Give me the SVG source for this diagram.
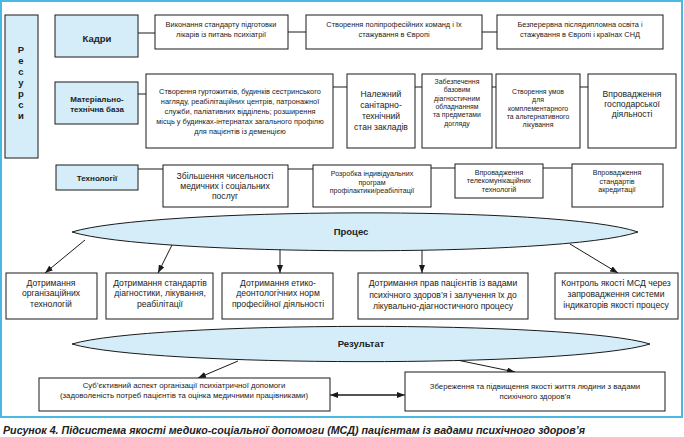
<svg xmlns="http://www.w3.org/2000/svg" width="684" height="437" viewBox="0 0 684 437">
<style>
.b{fill:#fff;stroke:#1a1a1a;stroke-width:1}
.lb{fill:#d5edf9;stroke:#1a1a1a;stroke-width:1}
.t{font-family:"Liberation Sans",Arial,sans-serif;fill:#222;text-anchor:middle}
.s{font-size:7.4px}
.x{font-size:6.9px}
.m{font-size:8.6px}
.h{font-weight:bold;font-size:8.6px}
.r{font-weight:bold;font-size:9.5px}
.c{fill:none;stroke:#1a1a1a;stroke-width:1}
</style>
<defs>
<marker id="ah" viewBox="0 0 8 6" refX="8" refY="3" markerWidth="8" markerHeight="6" markerUnits="userSpaceOnUse" orient="auto">
<path d="M0,0 L8,3 L0,6 Z" fill="#1a1a1a"/>
</marker>
</defs>
<rect x="1" y="1" width="681" height="416" fill="#fff" stroke="#47b9e2" stroke-width="2"/>

<g id="connectors">
<line class="c" x1="138" y1="33" x2="155" y2="33"/>
<line class="c" x1="288" y1="32" x2="306" y2="32"/>
<line class="c" x1="482" y1="32" x2="497" y2="32"/>
<line class="c" x1="138" y1="94" x2="146" y2="94"/>
<line class="c" x1="333" y1="87" x2="347" y2="87"/>
<line class="c" x1="415" y1="87" x2="422" y2="87"/>
<line class="c" x1="492" y1="87" x2="496" y2="87"/>
<line class="c" x1="580" y1="87" x2="588" y2="87"/>
<line class="c" x1="138" y1="169" x2="163" y2="169"/>
<line class="c" x1="288" y1="169" x2="313" y2="169"/>
<line class="c" x1="431" y1="168" x2="455" y2="168"/>
<line class="c" x1="543" y1="168" x2="572" y2="168"/>
<line class="c" x1="85" y1="240" x2="45" y2="273" marker-end="url(#ah)"/>
<line class="c" x1="172" y1="245" x2="158" y2="273" marker-end="url(#ah)"/>
<line class="c" x1="280" y1="247" x2="280" y2="273" marker-end="url(#ah)"/>
<line class="c" x1="422" y1="249" x2="422" y2="273" marker-end="url(#ah)"/>
<line class="c" x1="570" y1="244" x2="618" y2="273" marker-end="url(#ah)"/>
<line class="c" x1="238" y1="361" x2="198" y2="378" marker-end="url(#ah)"/>
<line class="c" x1="457" y1="360" x2="515" y2="372" marker-end="url(#ah)"/>
<line class="c" x1="335" y1="395" x2="405" y2="395" marker-end="url(#ah)"/>
<line class="c" x1="400" y1="395" x2="330" y2="395" marker-end="url(#ah)"/>
</g>

<g id="resursy">
<rect class="lb" x="5" y="15" width="33" height="143"/>
<text class="t r" x="21" y="53">Р</text>
<text class="t r" x="21" y="64">е</text>
<text class="t r" x="21" y="75">с</text>
<text class="t r" x="21" y="86">у</text>
<text class="t r" x="21" y="97">р</text>
<text class="t r" x="21" y="108">с</text>
<text class="t r" x="21" y="119">и</text>
</g>

<g id="kadry">
<rect class="lb" x="55" y="15" width="83" height="42"/>
<text class="t h" style="font-size:9.5px" x="97" y="42">Кадри</text>
</g>
<g id="k1">
<rect class="b" x="155" y="15" width="133" height="34"/>
<text class="t s" x="221" y="27">Виконання стандарту підготовки</text>
<text class="t s" x="221" y="37">лікарів із питань психіатрії</text>
</g>
<g id="k2">
<rect class="b" x="306" y="15" width="176" height="34"/>
<text class="t s" x="394" y="27">Створення поліпрофесійних команд і їх</text>
<text class="t s" x="394" y="37">стажування в Європі</text>
</g>
<g id="k3">
<rect class="b" x="497" y="15" width="166" height="34"/>
<text class="t s" x="580" y="27">Безперервна післядипломна  освіта і</text>
<text class="t s" x="580" y="37">стажування в Європі і країнах СНД</text>
</g>

<g id="mtb">
<rect class="lb" x="55" y="82" width="83" height="42"/>
<text class="t h" style="font-size:8px" x="97" y="102">Матеріально-</text>
<text class="t h" style="font-size:8px" x="97" y="112">технічна база</text>
</g>
<g id="m1">
<rect class="b" x="146" y="74" width="187" height="74"/>
<text class="t s" x="240" y="94">Створення гуртожитків, будинків сестринського</text>
<text class="t s" x="240" y="104">нагляду, реабілітаційних центрів, патронажної</text>
<text class="t s" x="240" y="114">служби, паліативних відділень; розширення</text>
<text class="t s" x="240" y="124">місць у будинках-інтернатах загального профілю</text>
<text class="t s" x="240" y="134">для пацієнтів із деменцією</text>
</g>
<g id="m2">
<rect class="b" x="347" y="74" width="68" height="74"/>
<text class="t m" x="381" y="97">Належний</text>
<text class="t m" x="381" y="108">санітарно-</text>
<text class="t m" x="381" y="119">технічний</text>
<text class="t m" x="381" y="130">стан закладів</text>
</g>
<g id="m3">
<rect class="b" x="422" y="74" width="70" height="74"/>
<text class="t x" x="457" y="84">Забезпечення</text>
<text class="t x" x="457" y="92.3">базовим</text>
<text class="t x" x="457" y="100.6">діагностичним</text>
<text class="t x" x="457" y="108.9">обладнанням</text>
<text class="t x" x="457" y="117.2">та предметами</text>
<text class="t x" x="457" y="125.5">догляду</text>
</g>
<g id="m4">
<rect class="b" x="496" y="74" width="84" height="74"/>
<text class="t x" x="538" y="94">Створення умов</text>
<text class="t x" x="538" y="102.3">для</text>
<text class="t x" x="538" y="110.6">комплементарного</text>
<text class="t x" x="538" y="118.9">та альтернативного</text>
<text class="t x" x="538" y="127.2">лікування</text>
</g>
<g id="m5">
<rect class="b" x="588" y="74" width="88" height="74"/>
<text class="t m" x="632" y="97">Впровадження</text>
<text class="t m" x="632" y="107">господарської</text>
<text class="t m" x="632" y="117">діяльності</text>
</g>

<g id="tech">
<rect class="lb" x="56" y="165" width="82" height="25"/>
<text class="t h" style="font-size:8px" x="97" y="181">Технології</text>
</g>
<g id="t1">
<rect class="b" x="163" y="165" width="125" height="42"/>
<text class="t m" x="225" y="179">Збільшення чисельності</text>
<text class="t m" x="225" y="189">медичних і соціальних</text>
<text class="t m" x="225" y="199">послуг</text>
</g>
<g id="t2">
<rect class="b" x="313" y="165" width="118" height="42"/>
<text class="t x" style="font-size:7.1px" x="372" y="176">Розробка індивідуальних</text>
<text class="t x" style="font-size:7.1px" x="372" y="184.5">програм</text>
<text class="t x" style="font-size:7.1px" x="372" y="193">профілактики/реабілітації</text>
</g>
<g id="t3">
<rect class="b" x="455" y="164" width="88" height="34"/>
<text class="t x" style="font-size:7.1px" x="499" y="174.5">Впровадження</text>
<text class="t x" style="font-size:7.1px" x="499" y="183">телекомунікаційних</text>
<text class="t x" style="font-size:7.1px" x="499" y="191.5">технологій</text>
</g>
<g id="t4">
<rect class="b" x="572" y="164" width="91" height="43"/>
<text class="t x" style="font-size:7.1px" x="617" y="175">Впровадження</text>
<text class="t x" style="font-size:7.1px" x="617" y="183.5">стандартів</text>
<text class="t x" style="font-size:7.1px" x="617" y="192">акредитації</text>
</g>

<g id="process">
<path class="lb" d="M72,232 C150,208 560,205 638,232 C560,258 150,256 72,232 Z"/>
<text class="t r" x="351" y="235">Процес</text>
</g>
<g id="p1">
<rect class="b" x="6" y="273" width="91" height="46"/>
<text class="t m" x="51" y="286">Дотримання</text>
<text class="t m" x="51" y="296">організаційних</text>
<text class="t m" x="51" y="307">технологій</text>
</g>
<g id="p2">
<rect class="b" x="106" y="273" width="107" height="46"/>
<text class="t m" x="160" y="286">Дотримання стандартів</text>
<text class="t m" x="160" y="296">діагностики, лікування,</text>
<text class="t m" x="160" y="307">реабілітації</text>
</g>
<g id="p3">
<rect class="b" x="222" y="273" width="111" height="46"/>
<text class="t m" x="278" y="286">Дотримання етико-</text>
<text class="t m" x="278" y="296">деонтологічних норм</text>
<text class="t m" x="278" y="307">професійної діяльності</text>
</g>
<g id="p4">
<rect class="b" x="358" y="273" width="170" height="46"/>
<text class="t m" x="443" y="286">Дотримання прав пацієнтів із вадами</text>
<text class="t m" x="443" y="298">психічного здоров’я і залучення їх до</text>
<text class="t m" x="443" y="309">лікувально-діагностичного процесу</text>
</g>
<g id="p5">
<rect class="b" x="555" y="273" width="123" height="46"/>
<text class="t m" x="616" y="286">Контроль якості МСД через</text>
<text class="t m" x="616" y="297">запровадження системи</text>
<text class="t m" x="616" y="308">індикаторів якості процесу</text>
</g>

<g id="result">
<path class="lb" d="M72,344 C150,321 572,320 650,344 C572,368 150,367 72,344 Z"/>
<text class="t r" x="361" y="347">Результат</text>
</g>
<g id="r1">
<rect class="b" x="39" y="378" width="291" height="33"/>
<text class="t s" style="font-size:7.8px" x="184" y="388">Суб’єктивний аспект організації психіатричної допомоги</text>
<text class="t s" style="font-size:7.8px" x="184" y="398">(задоволеність потреб пацієнтів та оцінка медичними працівниками)</text>
</g>
<g id="r2">
<rect class="b" x="405" y="372" width="260" height="39"/>
<text class="t s" style="font-size:7.8px" x="535" y="389">Збереження та підвищення якості життя людини з вадами</text>
<text class="t s" style="font-size:7.8px" x="535" y="399">психічного здоров’я</text>
</g>

<text x="3" y="434" style="font-family:'Liberation Sans',Arial,sans-serif;font-weight:bold;font-style:italic;font-size:10.5px;fill:#222" textLength="582" lengthAdjust="spacingAndGlyphs">Рисунок 4. Підсистема якості медико-соціальної допомоги (МСД) пацієнтам із вадами психічного здоров’я</text>
</svg>
